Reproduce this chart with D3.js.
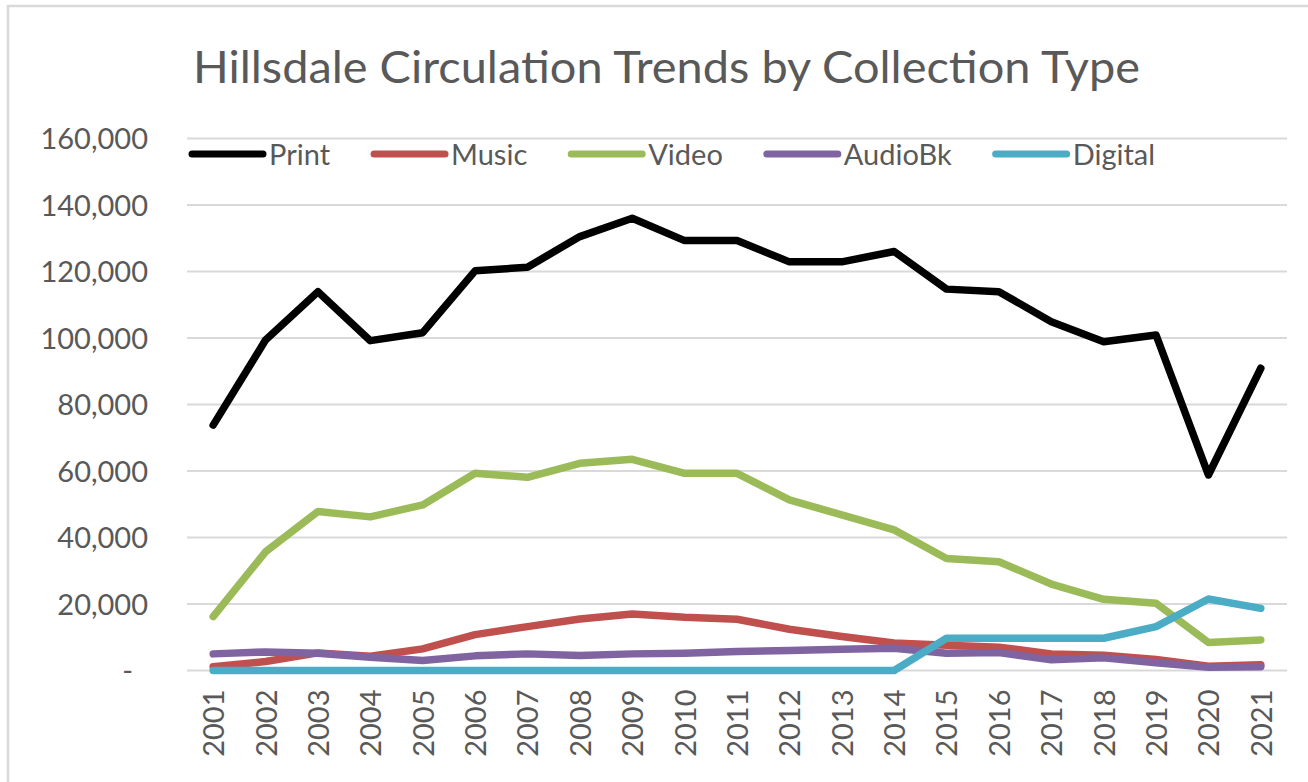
<!DOCTYPE html>
<html>
<head>
<meta charset="utf-8">
<script src="https://cdn.jsdelivr.net/npm/d3@7"></script>
<style>
  html, body { margin: 0; padding: 0; background: #ffffff; }
  svg { display: block; }
  text { font-family: Lato, "Open Sans", sans-serif; fill: #595959; }
</style>
</head>
<body>
<svg id="chart" width="1308" height="782"></svg>
<script>
const years = ["2001","2002","2003","2004","2005","2006","2007","2008","2009","2010","2011","2012","2013","2014","2015","2016","2017","2018","2019","2020","2021"];
const printVals   = [73800, 99400, 113900, 99200, 101600, 120200, 121300, 130500, 136000, 129300, 129300, 122900, 122900, 126000, 114700, 113900, 104900, 98900, 100900, 58800, 90900];
const musicVals   = [1100, 2700, 5300, 4300, 6500, 10800, 13200, 15500, 17000, 16000, 15400, 12400, 10200, 8300, 7600, 7000, 5000, 4600, 3300, 1300, 1700];
const videoVals   = [16200, 35700, 47800, 46200, 49800, 59300, 58100, 62300, 63500, 59300, 59300, 51300, 46800, 42300, 33700, 32700, 26000, 21400, 20200, 8400, 9200];
const audioVals   = [5000, 5600, 5200, 4000, 3000, 4400, 5000, 4500, 5000, 5200, 5700, 6000, 6400, 6700, 5200, 5400, 3200, 3800, 2300, 1000, 1100];
const digitalVals = [0, 0, 0, 0, 0, 0, 0, 0, 0, 0, 0, 0, 0, 0, 9700, 9700, 9700, 9700, 13200, 21500, 18700];
const seriesNames = ["Print", "Music", "Video", "AudioBk", "Digital"];
const seriesColors = ["#000000", "#C0504D", "#9BBB59", "#8064A2", "#4BACC6"];
const yTicks = [0, 20000, 40000, 60000, 80000, 100000, 120000, 140000, 160000];
const titleText = "Hillsdale Circulation Trends by Collection Type";

const seriesVals = [printVals, musicVals, videoVals, audioVals, digitalVals];

const svg = d3.select("#chart");
const plot = { left: 187, right: 1287, top: 138.5, bottom: 670.5 };

// chart border
svg.append("path")
  .attr("d", "M8,800 L8,6 L1320,6")
  .attr("fill", "none").attr("stroke", "#d9d9d9").attr("stroke-width", 2.5);

const x = d3.scalePoint().domain(years).range([plot.left, plot.right]).padding(0.5);
const y = d3.scaleLinear().domain([0, 160000]).range([plot.bottom, plot.top]);

// title
svg.append("text")
  .attr("x", 193).attr("y", 83)
  .attr("font-size", 45)
  .attr("textLength", 947)
  .attr("lengthAdjust", "spacingAndGlyphs")
  .text(titleText);

// gridlines
svg.append("g").selectAll("line").data(yTicks).join("line")
  .attr("x1", plot.left).attr("x2", plot.right)
  .attr("y1", d => y(d)).attr("y2", d => y(d))
  .attr("stroke", "#d9d9d9").attr("stroke-width", 2);

// y axis labels
const yAxis = d3.axisLeft(y).tickValues(yTicks).tickSize(0).tickPadding(0)
  .tickFormat(d => d === 0 ? "-" : d3.format(",")(d));
const gy = svg.append("g").attr("transform", "translate(148,0)").call(yAxis);
gy.select(".domain").remove();
gy.selectAll("text")
  .attr("font-size", 29).attr("font-family", "Lato, sans-serif").attr("fill", "#595959")
  .attr("dy", "0.36em")
  .attr("x", d => d === 0 ? -15 : 0);

// x axis labels
const xAxis = d3.axisBottom(x).tickSize(0).tickPadding(0);
const gx = svg.append("g").attr("transform", `translate(0,${plot.bottom})`).call(xAxis);
gx.select(".domain").remove();
gx.selectAll("text")
  .attr("font-size", 29).attr("font-family", "Lato, sans-serif").attr("fill", "#595959")
  .attr("transform", "rotate(-90)")
  .attr("x", -19).attr("y", 0).attr("dy", "0.36em")
  .attr("text-anchor", "end");

// lines
const line = d3.line().x((d, i) => x(years[i])).y(d => y(d));
svg.append("g").selectAll("path").data(seriesVals).join("path")
  .attr("d", d => line(d))
  .attr("fill", "none")
  .attr("stroke", (d, i) => seriesColors[i])
  .attr("stroke-width", 7.5)
  .attr("stroke-linejoin", "round")
  .attr("stroke-linecap", "round");

// legend
const lg = svg.append("g");
let lx = 189;
seriesNames.forEach((name, i) => {
  lg.append("line")
    .attr("x1", lx + 3).attr("x2", lx + 74)
    .attr("y1", 154).attr("y2", 154)
    .attr("stroke", seriesColors[i]).attr("stroke-width", 7)
    .attr("stroke-linecap", "round");
  const t = lg.append("text")
    .attr("x", lx + 80).attr("y", 165)
    .attr("font-size", 29)
    .text(name);
  lx = lx + 80 + t.node().getComputedTextLength() + 41;
});
</script>
</body>
</html>
